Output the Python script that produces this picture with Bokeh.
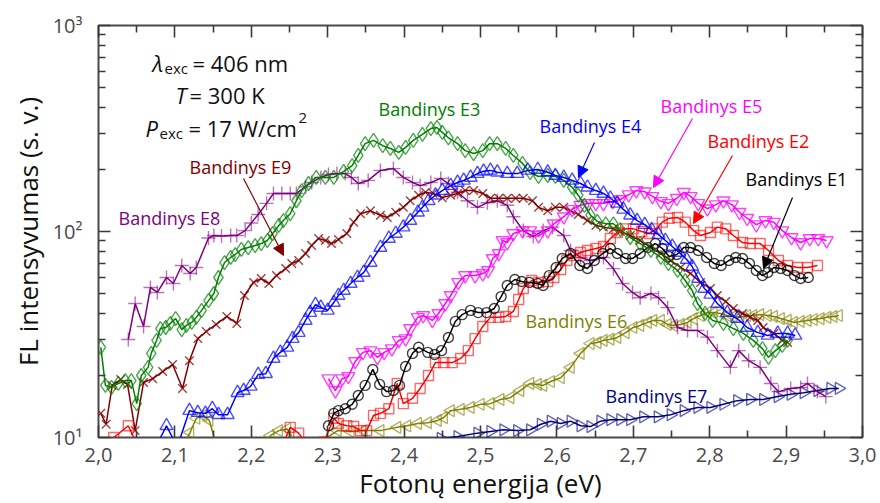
import math
from bokeh.plotting import figure
from bokeh.models import (FixedTicker, LinearAxis, LogAxis, Label, Arrow, NormalHead,
                          CustomJSTickFormatter, CustomLabelingPolicy)
from bokeh.embed import file_html
from bokeh.resources import INLINE

# ---------------- data ----------------
X_TICKS = [2.0, 2.1, 2.2, 2.3, 2.4, 2.5, 2.6, 2.7, 2.8, 2.9, 3.0]
X_MINOR = [2.05, 2.15, 2.25, 2.35, 2.45, 2.55, 2.65, 2.75, 2.85, 2.95]
Y_TICKS = [10, 100, 1000]
Y_MINOR = [20, 30, 40, 50, 60, 70, 80, 90, 200, 300, 400, 500, 600, 700, 800, 900]

E1 = [(2.301, 11.4), (2.308, 13.1), (2.314, 13.5), (2.323, 13.8), (2.332, 14.5), (2.340, 16.0),
      (2.349, 17.9), (2.359, 21.4), (2.368, 18.1), (2.377, 16.7), (2.386, 16.9), (2.394, 17.9),
      (2.402, 22.1), (2.411, 25.6), (2.419, 27.4), (2.431, 25.9), (2.440, 25.3), (2.449, 26.4),
      (2.458, 30.6), (2.467, 36.6), (2.476, 39.5), (2.487, 41.4), (2.497, 40.4), (2.508, 40.4),
      (2.518, 42.3), (2.527, 48.3), (2.535, 54.7), (2.545, 58.5), (2.554, 57.2), (2.564, 56.6),
      (2.575, 55.9), (2.582, 54.7), (2.590, 61.1), (2.599, 66.9), (2.607, 74.0), (2.618, 78.2),
      (2.630, 68.4), (2.640, 66.1), (2.649, 72.3), (2.660, 78.2), (2.670, 82.7), (2.679, 78.2),
      (2.690, 74.0), (2.699, 74.0), (2.709, 78.2), (2.719, 83.6), (2.729, 87.4), (2.738, 82.7),
      (2.747, 75.6), (2.757, 77.3), (2.766, 83.6), (2.775, 83.6), (2.785, 80.9), (2.796, 74.8),
      (2.806, 69.9), (2.815, 68.4), (2.825, 72.3), (2.834, 74.8), (2.843, 74.0), (2.852, 69.9),
      (2.861, 64.7), (2.869, 61.1), (2.876, 63.2), (2.884, 66.9), (2.893, 66.1), (2.902, 64.7),
      (2.911, 61.1), (2.919, 59.1), (2.929, 59.8)]

E2 = [(2.020, 10.0), (2.039, 11.4), (2.052, 9.0), (2.240, 9.0), (2.251, 11.2), (2.262, 10.5),
      (2.275, 9.0), (2.295, 9.5), (2.308, 12.4), (2.314, 11.7), (2.325, 11.4), (2.334, 11.3),
      (2.343, 10.8), (2.351, 10.8), (2.360, 12.8), (2.369, 13.1), (2.380, 13.8), (2.391, 18.3),
      (2.399, 14.6), (2.411, 15.5), (2.421, 17.3), (2.432, 20.0), (2.441, 23.1), (2.452, 23.1),
      (2.463, 23.1), (2.474, 24.2), (2.484, 26.4), (2.493, 30.2), (2.503, 34.6), (2.513, 38.3),
      (2.524, 38.3), (2.533, 38.7), (2.543, 40.9), (2.550, 46.8), (2.556, 52.9), (2.567, 57.8),
      (2.576, 56.6), (2.588, 57.2), (2.596, 59.8), (2.605, 65.4), (2.613, 72.3), (2.622, 76.5),
      (2.631, 79.1), (2.640, 80.9), (2.651, 82.7), (2.661, 84.6), (2.670, 92.5), (2.679, 98.9),
      (2.690, 103), (2.700, 103), (2.711, 100), (2.721, 97.8), (2.730, 103), (2.738, 111),
      (2.747, 116), (2.758, 117), (2.768, 111), (2.779, 101), (2.788, 95.6), (2.801, 98.9),
      (2.810, 105), (2.821, 103), (2.831, 95.6), (2.843, 88.4), (2.853, 87.4), (2.866, 87.4),
      (2.877, 80.9), (2.890, 72.3), (2.902, 68.4), (2.915, 66.9), (2.928, 66.9), (2.941, 68.4)]

E3 = [(2.003, 27.4), (2.009, 17.9), (2.017, 17.5), (2.026, 18.3), (2.035, 18.9), (2.043, 18.9),
      (2.050, 14.6), (2.056, 20.0), (2.065, 21.9), (2.069, 25.6), (2.076, 29.6), (2.081, 33.8),
      (2.088, 34.2), (2.094, 35.8), (2.101, 37.8), (2.109, 33.4), (2.115, 35.0), (2.122, 36.2),
      (2.128, 38.3), (2.135, 41.4), (2.144, 46.2), (2.151, 50.0), (2.157, 59.8), (2.165, 70.7),
      (2.173, 74.8), (2.179, 77.3), (2.187, 81.8), (2.196, 83.6), (2.205, 85.5), (2.213, 87.4),
      (2.221, 90.4), (2.228, 97.8), (2.236, 107), (2.242, 113), (2.251, 122), (2.259, 141),
      (2.266, 158), (2.275, 171), (2.285, 183), (2.297, 183), (2.308, 183), (2.321, 196),
      (2.332, 209), (2.340, 234), (2.349, 267), (2.360, 277), (2.372, 261), (2.382, 253),
      (2.393, 242), (2.402, 256), (2.412, 277), (2.424, 296), (2.435, 316), (2.443, 320),
      (2.450, 303), (2.458, 285), (2.470, 267), (2.480, 247), (2.491, 239), (2.503, 247),
      (2.512, 267), (2.522, 267), (2.533, 253), (2.543, 234), (2.555, 214), (2.565, 193),
      (2.576, 185), (2.588, 187), (2.598, 185), (2.609, 177), (2.620, 164), (2.628, 150),
      (2.636, 134), (2.644, 120), (2.653, 112), (2.664, 109), (2.674, 109), (2.683, 102),
      (2.696, 93.5), (2.709, 87.4), (2.723, 80.9), (2.736, 74.8), (2.746, 69.9), (2.758, 64.7),
      (2.768, 57.8), (2.777, 51.7), (2.784, 44.7), (2.794, 40.0), (2.804, 37.0), (2.818, 35.8),
      (2.831, 33.8), (2.844, 32.0), (2.857, 29.6), (2.869, 27.0), (2.877, 24.5), (2.886, 26.4),
      (2.895, 28.0), (2.902, 29.6)]

E4 = [(2.075, 9.0), (2.089, 11.4), (2.103, 9.0), (2.119, 13.5), (2.130, 13.2), (2.140, 13.1),
      (2.149, 13.8), (2.157, 12.9), (2.169, 12.9), (2.182, 16.5), (2.190, 16.9), (2.199, 17.7),
      (2.209, 20.2), (2.219, 20.4), (2.229, 24.2), (2.238, 25.9), (2.247, 27.4), (2.254, 30.2),
      (2.262, 32.3), (2.271, 37.0), (2.277, 40.4), (2.284, 44.2), (2.291, 42.8), (2.300, 41.4),
      (2.308, 45.2), (2.314, 48.9), (2.321, 51.7), (2.330, 55.9), (2.339, 59.8), (2.347, 63.2),
      (2.356, 70.7), (2.369, 83.6), (2.380, 92.5), (2.389, 97.8), (2.399, 105), (2.408, 113),
      (2.418, 124), (2.424, 131), (2.432, 141), (2.441, 150), (2.450, 158), (2.461, 167),
      (2.470, 173), (2.478, 177), (2.487, 183), (2.496, 191), (2.504, 196), (2.513, 198),
      (2.522, 194), (2.535, 191), (2.548, 191), (2.562, 198), (2.575, 200), (2.588, 194),
      (2.598, 187), (2.609, 183), (2.620, 177), (2.631, 171), (2.640, 164), (2.651, 158),
      (2.661, 153), (2.670, 145), (2.679, 137), (2.687, 128), (2.696, 120), (2.705, 113),
      (2.715, 108), (2.724, 102), (2.733, 96.6), (2.742, 90.4), (2.751, 84.6), (2.760, 79.1),
      (2.770, 73.1), (2.777, 67.6), (2.785, 59.1), (2.793, 52.9), (2.801, 49.5), (2.810, 44.7),
      (2.823, 40.4), (2.836, 37.8), (2.849, 34.2), (2.863, 32.3), (2.876, 31.3), (2.889, 32.0),
      (2.902, 32.0), (2.912, 31.3)]

E5 = [(2.301, 19.3), (2.310, 16.9), (2.319, 19.3), (2.327, 19.8), (2.336, 23.4), (2.346, 25.9),
      (2.356, 26.4), (2.365, 24.5), (2.374, 25.9), (2.384, 27.0), (2.393, 29.6), (2.402, 30.2),
      (2.408, 33.8), (2.418, 38.3), (2.425, 39.1), (2.437, 37.0), (2.445, 40.0), (2.454, 44.7),
      (2.461, 48.9), (2.471, 56.6), (2.480, 61.1), (2.493, 61.1), (2.503, 62.5), (2.510, 64.7),
      (2.516, 74.0), (2.524, 78.2), (2.529, 90.4), (2.535, 88.4), (2.543, 97.8), (2.555, 101),
      (2.565, 101), (2.576, 95.6), (2.588, 101), (2.596, 109), (2.609, 118), (2.620, 128),
      (2.631, 134), (2.641, 137), (2.651, 137), (2.661, 137), (2.673, 140), (2.683, 143),
      (2.694, 151), (2.704, 158), (2.715, 156), (2.725, 148), (2.736, 140), (2.746, 137),
      (2.757, 145), (2.766, 155), (2.775, 148), (2.785, 137), (2.797, 129), (2.808, 135),
      (2.818, 141), (2.829, 135), (2.839, 124), (2.849, 116), (2.861, 108), (2.873, 113),
      (2.884, 111), (2.895, 101), (2.907, 93.5), (2.919, 88.4), (2.931, 92.5), (2.942, 92.5),
      (2.953, 90.4)]

E6 = [(2.110, 9.0), (2.120, 10.6), (2.128, 12.4), (2.137, 12.8), (2.145, 12.1), (2.155, 9.0),
      (2.215, 9.0), (2.225, 10.2), (2.236, 10.8), (2.247, 11.0), (2.257, 9.5), (2.290, 9.5),
      (2.313, 10.8), (2.330, 10.7), (2.347, 10.8), (2.369, 10.8), (2.391, 11.2), (2.404, 11.4),
      (2.418, 11.7), (2.431, 11.8), (2.444, 12.1), (2.452, 12.5), (2.461, 13.5), (2.474, 13.7),
      (2.487, 14.0), (2.500, 14.5), (2.513, 14.6), (2.526, 15.3), (2.539, 15.6), (2.552, 16.9),
      (2.565, 18.3), (2.575, 18.1), (2.582, 17.9), (2.592, 18.7), (2.605, 19.5), (2.618, 21.9),
      (2.631, 25.6), (2.644, 28.6), (2.653, 28.9), (2.661, 29.6), (2.670, 30.0), (2.679, 30.6),
      (2.690, 32.3), (2.700, 34.2), (2.709, 35.0), (2.719, 36.2), (2.726, 37.0), (2.736, 37.0),
      (2.745, 35.4), (2.753, 35.0), (2.762, 35.4), (2.771, 36.2), (2.779, 37.8), (2.788, 39.1),
      (2.797, 40.4), (2.805, 40.4), (2.814, 40.0), (2.823, 39.1), (2.831, 38.7), (2.840, 38.3),
      (2.849, 39.1), (2.857, 39.1), (2.866, 39.5), (2.876, 39.1), (2.884, 38.7), (2.893, 37.8),
      (2.902, 37.0), (2.910, 36.2), (2.919, 36.6), (2.928, 37.0), (2.936, 37.4), (2.945, 37.8),
      (2.954, 38.3), (2.962, 38.7), (2.969, 39.1)]

E7 = [(2.448, 9.9), (2.470, 10.1), (2.496, 10.5), (2.513, 10.7), (2.530, 10.9), (2.548, 10.8),
      (2.565, 10.9), (2.579, 11.6), (2.592, 12.0), (2.605, 11.7), (2.618, 12.0), (2.631, 11.4),
      (2.644, 11.3), (2.657, 12.0), (2.670, 12.2), (2.683, 12.2), (2.696, 12.2), (2.713, 12.6),
      (2.732, 12.6), (2.749, 12.9), (2.766, 13.5), (2.784, 14.0), (2.801, 14.0), (2.818, 14.5),
      (2.836, 15.1), (2.853, 15.3), (2.870, 15.3), (2.889, 15.8), (2.906, 16.2), (2.923, 16.5),
      (2.941, 16.9), (2.958, 17.3), (2.969, 17.3)]

E8 = [(2.039, 29.9), (2.048, 44.7), (2.059, 34.6), (2.068, 53.5), (2.077, 50.6), (2.089, 59.8),
      (2.098, 55.9), (2.109, 68.4), (2.120, 62.5), (2.128, 66.9), (2.144, 93.0), (2.151, 95.6),
      (2.161, 95.0), (2.173, 95.6), (2.181, 95.6), (2.192, 101), (2.200, 110), (2.209, 121),
      (2.220, 137), (2.229, 153), (2.240, 153), (2.251, 153), (2.259, 153), (2.271, 165),
      (2.279, 173), (2.291, 183), (2.301, 189), (2.312, 191), (2.323, 191), (2.331, 183),
      (2.340, 171), (2.353, 177), (2.369, 198), (2.386, 202), (2.399, 183), (2.411, 173),
      (2.421, 167), (2.435, 173), (2.448, 181), (2.458, 171), (2.470, 155), (2.483, 141),
      (2.496, 131), (2.509, 138), (2.522, 141), (2.535, 134), (2.543, 118), (2.556, 101),
      (2.569, 94.5), (2.582, 101), (2.594, 105), (2.609, 95.6), (2.618, 80.9), (2.631, 74.8),
      (2.644, 72.3), (2.661, 74.8), (2.674, 66.0), (2.686, 55.9), (2.699, 50.6), (2.709, 47.7),
      (2.723, 50.0), (2.733, 47.7), (2.745, 42.7), (2.758, 34.2), (2.771, 33.1), (2.784, 33.1),
      (2.797, 30.7), (2.810, 26.4), (2.827, 21.9), (2.838, 26.4), (2.851, 23.6), (2.866, 21.9),
      (2.880, 18.3), (2.890, 16.7), (2.906, 17.3), (2.919, 17.5), (2.928, 18.3), (2.941, 16.7),
      (2.952, 15.8)]

E9 = [(2.003, 13.1), (2.010, 11.6), (2.018, 17.9), (2.029, 19.1), (2.038, 18.1), (2.048, 10.8),
      (2.059, 18.5), (2.071, 19.3), (2.084, 20.9), (2.097, 22.6), (2.110, 17.3), (2.119, 23.6),
      (2.130, 30.2), (2.141, 32.7), (2.154, 35.4), (2.168, 38.7), (2.181, 35.8), (2.191, 48.9),
      (2.203, 56.6), (2.213, 59.1), (2.223, 55.9), (2.233, 61.1), (2.245, 66.1), (2.253, 69.9),
      (2.262, 72.3), (2.271, 78.2), (2.279, 85.5), (2.288, 92.5), (2.297, 90.4), (2.305, 87.4),
      (2.314, 91.4), (2.325, 97.8), (2.334, 111), (2.343, 122), (2.356, 126), (2.369, 120),
      (2.378, 117), (2.389, 124), (2.399, 131), (2.408, 141), (2.419, 150), (2.428, 155),
      (2.438, 153), (2.450, 146), (2.461, 150), (2.470, 153), (2.480, 158), (2.491, 158),
      (2.503, 153), (2.513, 145), (2.524, 145), (2.535, 145), (2.546, 145), (2.556, 145),
      (2.568, 141), (2.576, 131), (2.588, 126), (2.598, 131), (2.609, 131), (2.618, 126),
      (2.628, 121), (2.640, 113), (2.651, 107), (2.661, 105), (2.674, 103), (2.683, 100),
      (2.696, 95.6), (2.709, 90.4), (2.723, 83.6), (2.736, 78.2), (2.749, 72.3), (2.762, 66.9),
      (2.775, 62.5), (2.788, 56.6), (2.801, 52.9), (2.810, 48.9), (2.821, 45.7), (2.831, 42.3),
      (2.843, 40.0), (2.853, 38.3), (2.863, 37.0), (2.870, 34.2), (2.884, 32.0), (2.895, 29.6),
      (2.902, 28.9)]

# ---------------- styling ----------------
FONT = "Open Sans"
TICK_COLOR = "#3a3a3a"

p = figure(width=880, height=503, x_range=(2.0, 3.0), y_range=(10, 1000),
           y_axis_type="log", output_backend="svg", toolbar_location=None,
           min_border_left=98, min_border_right=18, min_border_top=25, min_border_bottom=66,
           background_fill_color="white", border_fill_color="white")
p.xgrid.visible = False
p.ygrid.visible = False
p.outline_line_color = "#4a4a4a"
p.outline_line_width = 2

xt = FixedTicker(ticks=X_TICKS, minor_ticks=X_MINOR)
yt = FixedTicker(ticks=Y_TICKS, minor_ticks=Y_MINOR)
xfmt = CustomJSTickFormatter(code="return tick.toFixed(1).replace('.', ',');")
yfmt = CustomJSTickFormatter(code="var m = {1:'10\u00b9', 2:'10\u00b2', 3:'10\u00b3'}; return m[Math.round(Math.log10(tick))] || '';")
blank_fmt = CustomJSTickFormatter(code="return '';")
no_labels = CustomLabelingPolicy(code="""
try { for (const i of Array.from(indices)) { indices.unset(i); } } catch (e) {}
return indices;
""")


def style_axis(ax, show_labels):
    ax.axis_line_color = None
    ax.major_tick_in = 12
    ax.major_tick_out = 0
    ax.minor_tick_in = 7
    ax.minor_tick_out = 0
    ax.major_tick_line_color = TICK_COLOR
    ax.minor_tick_line_color = TICK_COLOR
    ax.major_tick_line_width = 1.6
    ax.minor_tick_line_width = 1.6
    ax.major_label_text_font = FONT
    ax.major_label_text_color = "#4a4a4a"
    ax.major_label_text_font_size = "20px"
    if not show_labels:
        ax.formatter = blank_fmt
        ax.major_label_policy = no_labels
        ax.major_label_standoff = 0


xa = p.xaxis[0]
xa.ticker = xt
xa.formatter = xfmt
style_axis(xa, True)
xa.major_label_standoff = 10
xa.axis_label = "Fotonų energija (eV)"
xa.axis_label_text_font = FONT
xa.axis_label_text_font_size = "26px"
xa.axis_label_text_font_style = "normal"
xa.axis_label_text_color = "#111111"
xa.axis_label_standoff = 0

ya = p.yaxis[0]
ya.ticker = yt
ya.formatter = yfmt
style_axis(ya, True)
ya.major_label_standoff = 16
ya.axis_label = "FL intensyvumas (s. v.)"
ya.axis_label_text_font = FONT
ya.axis_label_text_font_size = "26px"
ya.axis_label_text_font_style = "normal"
ya.axis_label_text_color = "#111111"
ya.axis_label_standoff = 4

top = LinearAxis(ticker=xt)
style_axis(top, False)
p.add_layout(top, "above")
right = LogAxis(ticker=yt)
style_axis(right, False)
p.add_layout(right, "right")

SERIES = [
    (E6, "#808000", "triangle", math.pi / 2, 12, 0.6),
    (E7, "#000080", "triangle", -math.pi / 2, 12, 0.6),
    (E8, "#800080", "cross", 0.0, 14, 0.55),
    (E9, "#800000", "x", 0.0, 12, 0.75),
    (E5, "#ff00ff", "inverted_triangle", 0.0, 13, 0.75),
    (E2, "#ff0000", "square", 0.0, 10, 0.6),
    (E1, "#000000", "circle", 0.0, 10, 0.75),
    (E3, "#008000", "diamond", 0.0, 14, 0.7),
    (E4, "#0000ff", "triangle", 0.0, 13, 0.7),
]
for pts, color, marker, ang, size, alpha in SERIES:
    xs = [a for a, b in pts]
    ys = [b for a, b in pts]
    p.line(xs, ys, line_color=color, line_width=1.5)
    p.scatter(xs, ys, marker=marker, size=size, angle=ang, fill_color=None,
              line_color=color, line_width=1.4, line_alpha=alpha)

# ---------------- annotations (placed by frame pixel position) ----------------
FX0, FX1, FY0, FY1 = 98, 862, 437, 25


def at(px, py):
    return 2.0 + (px - FX0) / (FX1 - FX0), 10 ** (1 + 2 * (FY0 - py) / (FY0 - FY1))


LABELS = [
    ("Bandinys E3", "#008000", 378, 108),
    ("Bandinys E4", "#0000ff", 539, 125),
    ("Bandinys E5", "#ff00ff", 660, 105),
    ("Bandinys E2", "#ff0000", 707, 140),
    ("Bandinys E1", "#000000", 745, 178),
    ("Bandinys E9", "#800000", 189, 166),
    ("Bandinys E8", "#800080", 118, 217),
    ("Bandinys E6", "#808000", 525, 320),
    ("Bandinys E7", "#000080", 605, 395),
]
for text, color, px, py in LABELS:
    x, y = at(px, py)
    p.add_layout(Label(x=x, y=y, text=text, text_color=color, text_font=FONT,
                       text_font_size="18px", text_baseline="middle", text_align="left"))

ARROWS = [
    ("#0000ff", (594, 142), (578, 177)),
    ("#ff00ff", (692, 118), (653, 187)),
    ("#ff0000", (732, 155), (693, 223)),
    ("#000000", (792, 197), (763, 268)),
    ("#800000", (243, 178), (283, 255)),
]
for color, (sx, sy), (ex, ey) in ARROWS:
    x0, y0 = at(sx, sy)
    x1, y1 = at(ex, ey)
    p.add_layout(Arrow(end=NormalHead(size=11, fill_color=color, line_color=color),
                       x_start=x0, y_start=y0, x_end=x1, y_end=y1,
                       line_color=color, line_width=1.2))

INFO = [
    ("λ", 152, 62, "22px", "italic"),
    ("exc", 164, 67, "15px", "normal"),
    ("= 406 nm", 192, 62, "22px", "normal"),
    ("T", 175, 94, "22px", "italic"),
    ("= 300 K", 189, 94, "22px", "normal"),
    ("P", 145, 127, "22px", "italic"),
    ("exc", 159, 132, "15px", "normal"),
    ("= 17 W/cm", 188, 127, "22px", "normal"),
    ("2", 298, 117, "15px", "normal"),
]
for text, px, py, fs, style in INFO:
    x, y = at(px, py)
    p.add_layout(Label(x=x, y=y, text=text, text_color="#111111", text_font=FONT,
                       text_font_size=fs, text_font_style=style,
                       text_baseline="alphabetic", text_align="left"))

open("out.html", "w").write(file_html(p, INLINE))
